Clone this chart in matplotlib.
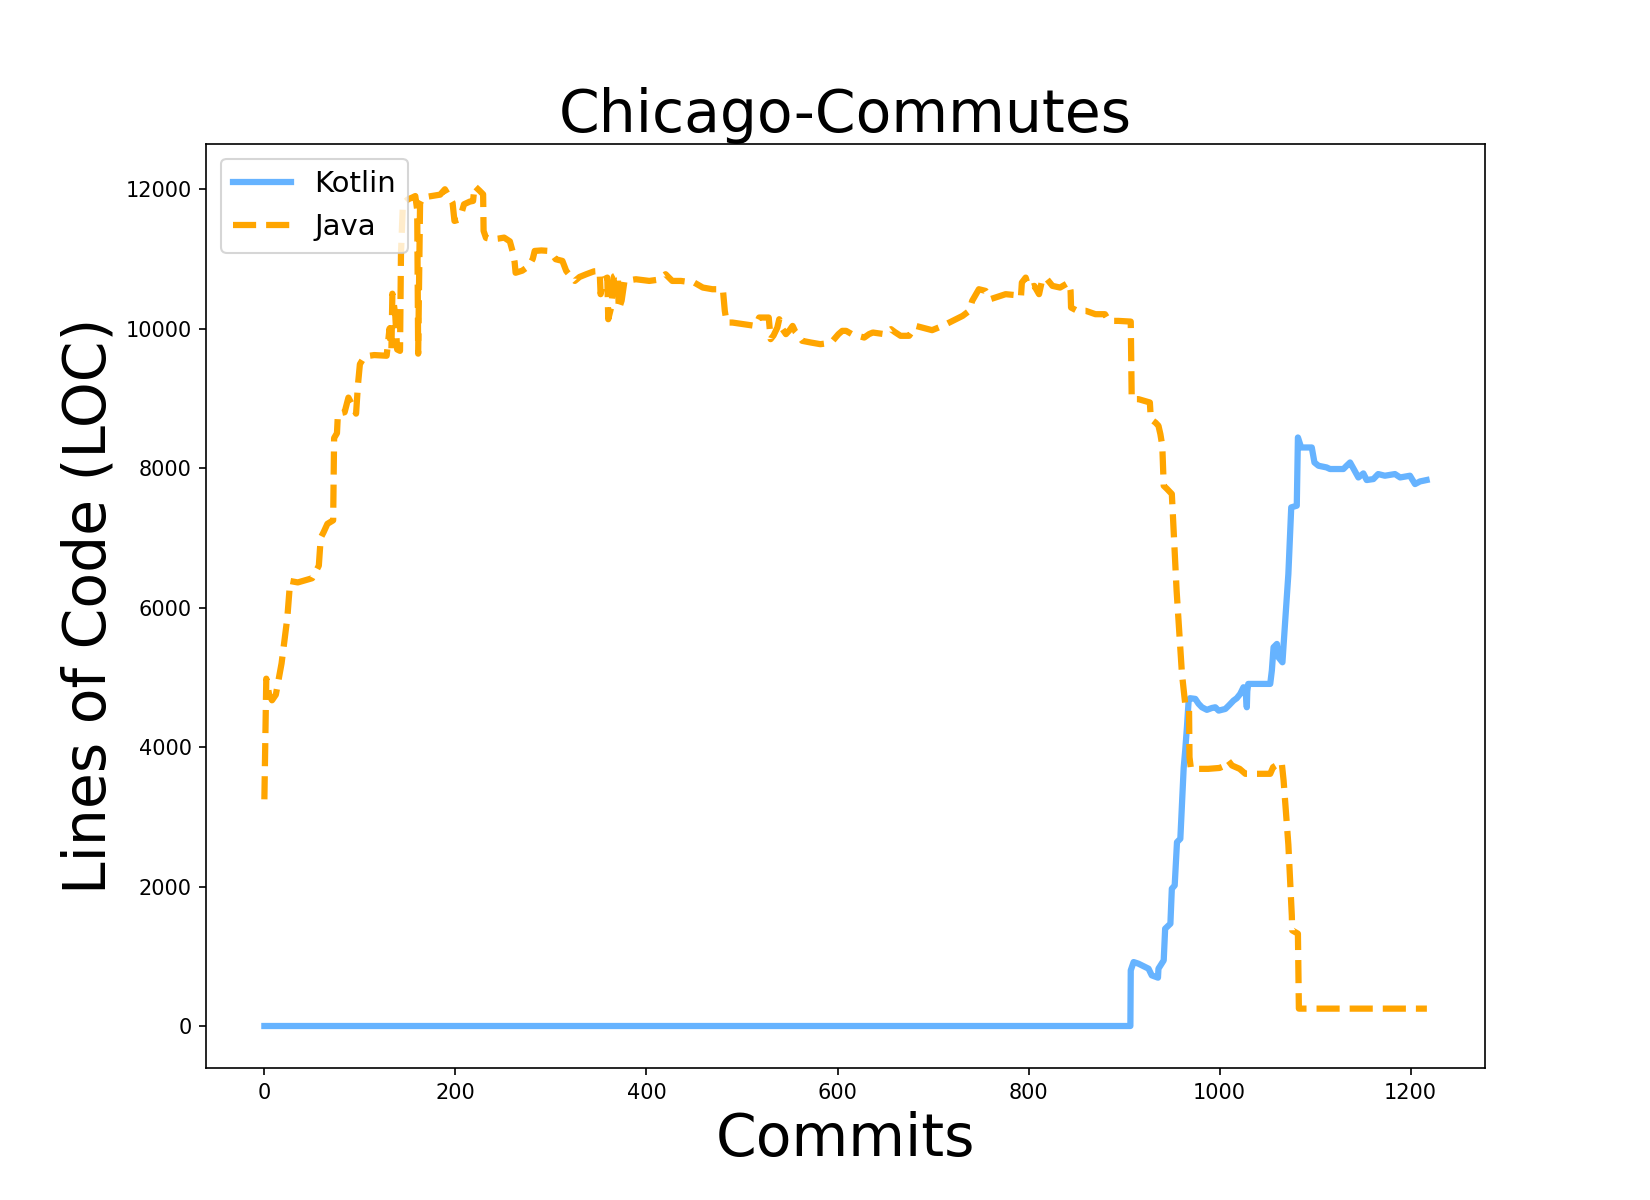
import matplotlib

matplotlib.use("Agg", force=True)
import matplotlib.pyplot as plt

# values: (commit index, lines of code) at the polyline vertices
kotlin_commits = [
    0, 906.6, 907, 910, 915, 920, 925.6, 929, 935.5, 936, 941.5, 943, 948.5, 950, 953,
    955.4, 958.9, 960, 962.4, 964, 965.8, 967.6, 969, 974.6, 978, 981.5, 986.7, 992,
    995.5, 999, 1006, 1010, 1014.6, 1018, 1021.6, 1025, 1027, 1028.5, 1029, 1030, 1053,
    1054.7, 1056.5, 1060, 1061.6, 1065.8, 1068.7, 1072, 1075, 1080.8, 1082, 1085.4,
    1096.5, 1099.3, 1103.5, 1112, 1115.6, 1129.6, 1133, 1136.6, 1145.3, 1150.5, 1154,
    1161, 1166, 1173, 1183.6, 1189, 1199.3, 1204.6, 1209.8, 1216.7,
]
kotlin_loc = [
    0, 0, 798, 917, 894, 860, 822, 726, 693, 822, 941, 1395, 1467, 1968, 2016,
    2636, 2685, 3000, 3700, 3950, 4284, 4666, 4700, 4690, 4620, 4570, 4533, 4560,
    4570, 4522, 4546, 4600, 4666, 4700, 4762, 4857, 4850, 4570, 4800, 4905, 4905,
    5096, 5430, 5478, 5287, 5215, 5812, 6481, 7436, 7460, 8438, 8295,
    8295, 8080, 8033, 8009, 7986, 7986, 8033, 8080, 7865, 7923, 7828,
    7842, 7914, 7890, 7914, 7865, 7890, 7770, 7808, 7828,
]

java_commits = [
    0, 2, 5, 8, 12, 18, 24, 27, 35, 45, 50, 54, 57, 59, 62, 66, 72, 73, 76, 77, 84, 88,
    92, 96, 98, 100, 105, 115, 128, 131, 133, 134, 137, 139, 142, 143, 145, 150, 155,
    158, 160, 161, 163, 166, 175, 184, 189, 193, 197, 199, 203, 206, 209, 215, 218.5,
    220, 225, 229, 229.5, 232, 238, 245, 251, 257, 260, 262, 263, 270, 277, 281, 283,
    290, 298, 302, 305, 312, 316, 320, 325, 330, 337, 345, 351, 352, 355, 359, 360,
    363, 366, 370, 371, 374, 377, 389, 403, 412, 420, 427, 436, 450, 459, 469, 480,
    482, 484, 490, 502, 514, 518, 528, 530, 533, 537, 539, 542, 546, 550, 553, 556,
    558, 563, 572, 582, 590, 595, 601, 605, 609, 615, 628, 633, 637, 649, 656, 660,
    666, 675, 682, 690, 699, 710, 724, 731, 738, 741, 748, 755, 760, 776, 786, 792,
    793, 797, 800, 806, 811, 814, 818, 825, 833, 842, 844, 844.5, 851, 860, 870, 880,
    884, 894, 907, 908, 915, 922, 927, 928, 933, 936, 938, 940, 941.5, 945, 950, 955,
    960.6, 964, 968, 968.5, 970, 988, 1000, 1006, 1009, 1013, 1021, 1027, 1040, 1053,
    1056, 1062, 1065, 1067, 1072, 1075.6, 1076, 1082, 1083, 1217,
]
java_loc = [
    3250, 4980, 4750, 4670, 4750, 5200, 5850, 6380, 6360, 6400, 6420, 6520, 6600, 7000,
    7080, 7200, 7250, 8430, 8500, 8780, 8800, 9010, 8900, 8780, 9200, 9490, 9600, 9620,
    9610, 10000, 9700, 10500, 10200, 9700, 9680, 11070, 11785, 11850, 11880, 11900,
    11700, 9640, 11800, 11880, 11900, 11920, 11997, 11900, 11805, 11543, 11560, 11640,
    11782, 11820, 11830, 12044, 11980, 11925, 11400, 11300, 11280, 11290, 11304, 11250,
    11100, 10950, 10800, 10830, 10898, 11000, 11113, 11120, 11113, 11050, 10994, 10970,
    10826, 10760, 10683, 10740, 10779, 10820, 10826, 10493, 10700, 10731, 10134, 10300,
    10750, 10779, 10278, 10400, 10683, 10707, 10683, 10700, 10779, 10683, 10683, 10659,
    10588, 10564, 10564, 10254, 10086, 10086, 10062, 10038, 10158, 10158, 9848, 9900,
    10014, 10134, 10000, 9920, 9980, 10038, 9950, 9920, 9824, 9800, 9776, 9790, 9824,
    9920, 9967, 9967, 9920, 9871, 9920, 9943, 9920, 9991, 9950, 9896, 9896, 10038,
    10010, 9977, 10038, 10134, 10182, 10254, 10397, 10564, 10540, 10421, 10493, 10480,
    10445, 10659, 10731, 10588, 10612, 10493, 10683, 10731, 10612, 10588, 10659, 10540,
    10301, 10254, 10254, 10206, 10206, 10110, 10110, 10100, 8988, 8988, 8960, 8940,
    8702, 8650, 8606, 8487, 8320, 7746, 7700, 7628, 6242, 5049, 4619, 4570, 3854, 3687,
    3687, 3700, 3735, 3806, 3735, 3687, 3616, 3616, 3616, 3711, 3760, 3782, 3520, 2600,
    1586, 1371, 1324, 249, 249,
]

fig, ax = plt.subplots(figsize=(11, 8), dpi=150)
ax.plot(kotlin_commits, kotlin_loc, color="#66b3ff", linewidth=3, label="Kotlin")
ax.plot(java_commits, java_loc, color="orange", linewidth=3, linestyle="--", label="Java")
ax.set_title("Chicago-Commutes", fontsize=28)
ax.set_xlabel("Commits", fontsize=28)
ax.set_ylabel("Lines of Code (LOC)", fontsize=28)
ax.legend(loc="upper left", fontsize=14)
fig.savefig("out.png")
